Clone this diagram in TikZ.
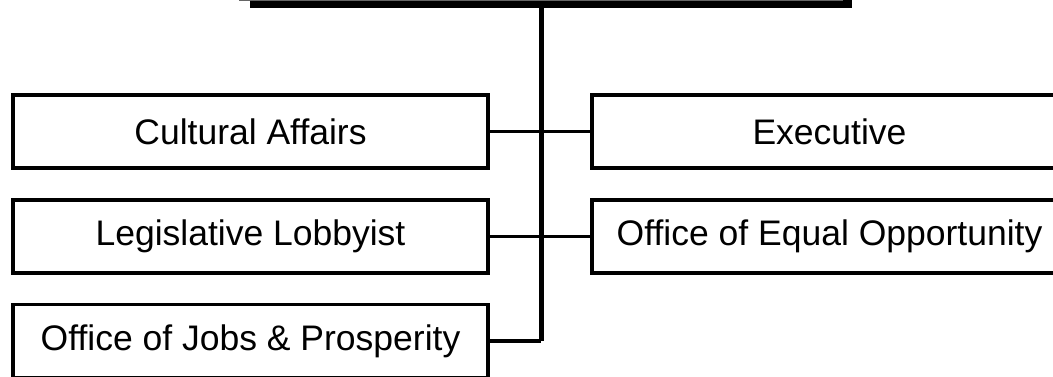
\documentclass[tikz,border=0pt]{standalone}
\usepackage{fontspec}
\setmainfont{Liberation Sans}
\usetikzlibrary{shadows}
\begin{document}
\begin{tikzpicture}[x=0.5pt,y=-0.5pt,
  unitbox/.style={draw=black, line width=1.75pt, fill=white, minimum width=237.5pt, minimum height=36.5pt, inner sep=0pt,
    font=\fontsize{17.75}{20}\selectfont},
  conn/.style={draw=black, line width=1.6pt},
  trunkline/.style={draw=black, line width=2.5pt}]
\useasboundingbox (0,0) rectangle (1053,376);
\node[draw=black!60, line width=1pt, fill=white, minimum width=301pt, minimum height=40pt, inner sep=0pt,
  drop shadow={shadow xshift=5pt, shadow yshift=-4pt, fill=black, opacity=1}] (top) at (541,-40) {};
\node[unitbox] (ca) at (250.5,131.5) {Cultural Affairs};
\node[unitbox] (ex) at (829.5,131.5) {Executive};
\node[unitbox] (ll) at (250.5,236.5) {Legislative Lobbyist};
\node[unitbox] (oeo) at (829.5,236.5) {Office of Equal Opportunity};
\node[unitbox] (ojp) at (250.5,341) {Office of Jobs \& Prosperity};
\draw[trunkline] (top.south) -- (top.south |- ojp.east);
\draw[conn] (ca.east) -- (ex.west);
\draw[conn] (ll.east) -- (oeo.west);
\draw[conn] (ojp.east) -- (ojp.east -| top.south);
\end{tikzpicture}
\end{document}
